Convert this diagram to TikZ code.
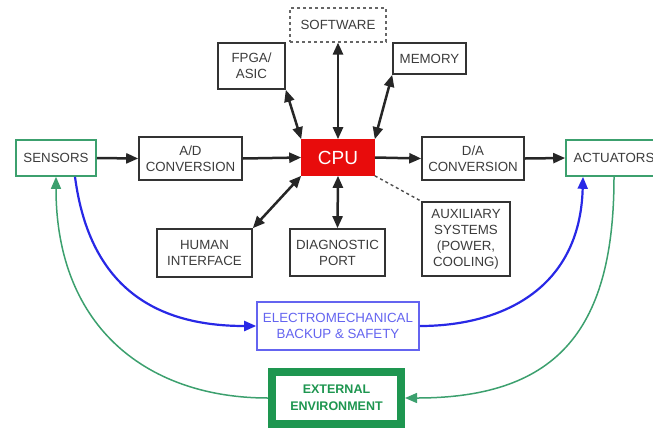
\documentclass[tikz,border=0pt]{standalone}
\usepackage{fontspec}
\newfontfamily\lab{Liberation Sans}
\usetikzlibrary{arrows.meta,calc}
\definecolor{cpured}{RGB}{232,12,12}
\definecolor{grn}{RGB}{60,160,110}
\definecolor{dgrn}{RGB}{30,150,80}
\definecolor{blu}{RGB}{40,40,230}
\definecolor{lblu}{RGB}{100,100,240}
\definecolor{txt}{RGB}{60,60,60}
\tikzset{
  x=1pt,y=1pt,
  box/.style={draw=black!80, line width=1.6pt, fill=white, inner sep=0pt, align=center,
    font=\lab\fontsize{13.3}{16}\selectfont, text=txt},
  bk/.style={line width=2.5pt, draw=black!85, -{Triangle[length=12pt,width=10pt]}},
  bkk/.style={line width=2.5pt, draw=black!85, {Triangle[length=12pt,width=10pt]}-{Triangle[length=12pt,width=10pt]}},
  bl/.style={line width=2.2pt, draw=blu, -{Triangle[length=12pt,width=10pt]}},
  gr/.style={line width=1.5pt, draw=grn, -{Triangle[length=12pt,width=10pt]}}
}
\begin{document}
\begin{tikzpicture}
\useasboundingbox (0,0) rectangle (653,-432);
\node[box, dashed, line width=1.1pt, draw=black!60, minimum width=96pt, minimum height=34pt] (sw) at (338,-25) {SOFTWARE};
\node[box, minimum width=67pt, minimum height=46pt] (fpga) at (251.5,-66) {FPGA/\\ASIC};
\node[box, minimum width=73pt, minimum height=31pt] (mem) at (429.5,-58.5) {MEMORY};
\node[box, draw=grn, minimum width=80pt, minimum height=36pt] (sen) at (56,-158) {SENSORS};
\node[box, minimum width=103pt, minimum height=43pt] (ad) at (190.5,-158.5) {A/D\\CONVERSION};
\node[box, draw=cpured, fill=cpured, text=white, font=\lab\fontsize{19}{20}\selectfont, minimum width=72pt, minimum height=35pt] (cpu) at (338,-157.5) {CPU};
\node[box, minimum width=102pt, minimum height=43pt] (da) at (473,-158.5) {D/A\\CONVERSION};
\node[box, draw=grn, minimum width=96pt, minimum height=36pt] (act) at (614,-158) {ACTUATORS};
\node[box, minimum width=95pt, minimum height=48pt] (hum) at (204.5,-253) {HUMAN\\INTERFACE};
\node[box, minimum width=95pt, minimum height=47pt] (diag) at (337.5,-252.5) {DIAGNOSTIC\\PORT};
\node[box, minimum width=88pt, minimum height=74pt] (aux) at (466,-239) {AUXILIARY\\SYSTEMS\\(POWER,\\COOLING)};
\node[box, draw=lblu, text=lblu, minimum width=162pt, minimum height=48pt] (em) at (338,-326) {ELECTROMECHANICAL\\BACKUP \& SAFETY};
\node[box, draw=dgrn, line width=8pt, text=dgrn, font=\lab\bfseries\fontsize{12.5}{17}\selectfont, minimum width=129pt, minimum height=52pt] (ext) at (336.5,-398) {EXTERNAL\\ENVIRONMENT};

\draw[bk] (sen.east) -- (ad.west);
\draw[bk] (ad.east) -- (cpu.west);
\draw[bk] (cpu.east) -- (da.west);
\draw[bk] (da.east) -- (act.west);
\draw[bkk] (fpga.south east) -- (cpu.north west);
\draw[bkk] (sw.south) -- (cpu.north);
\draw[bkk] (mem.south west) -- (cpu.north east);
\draw[bkk] (hum.north east) -- (cpu.south west);
\draw[bkk] (diag.north) -- (cpu.south);
\draw[line width=1.4pt, black!70, dashed] (cpu.south east) -- (aux.north west);

\draw[bl] ($(sen.south)+(19,0)$) .. controls +(15,-114) and +(-97,0) .. (em.west);
\draw[bl] (em.east) .. controls +(81,0) and +(-3,-113) .. ($(act.south)+(-31,0)$);
\draw[gr] (ext.west) .. controls +(-118,0) and +(0,-153) .. (sen.south);
\draw[gr] (act.south) .. controls +(0,-150) and +(155,0) .. (ext.east);
\end{tikzpicture}
\end{document}
